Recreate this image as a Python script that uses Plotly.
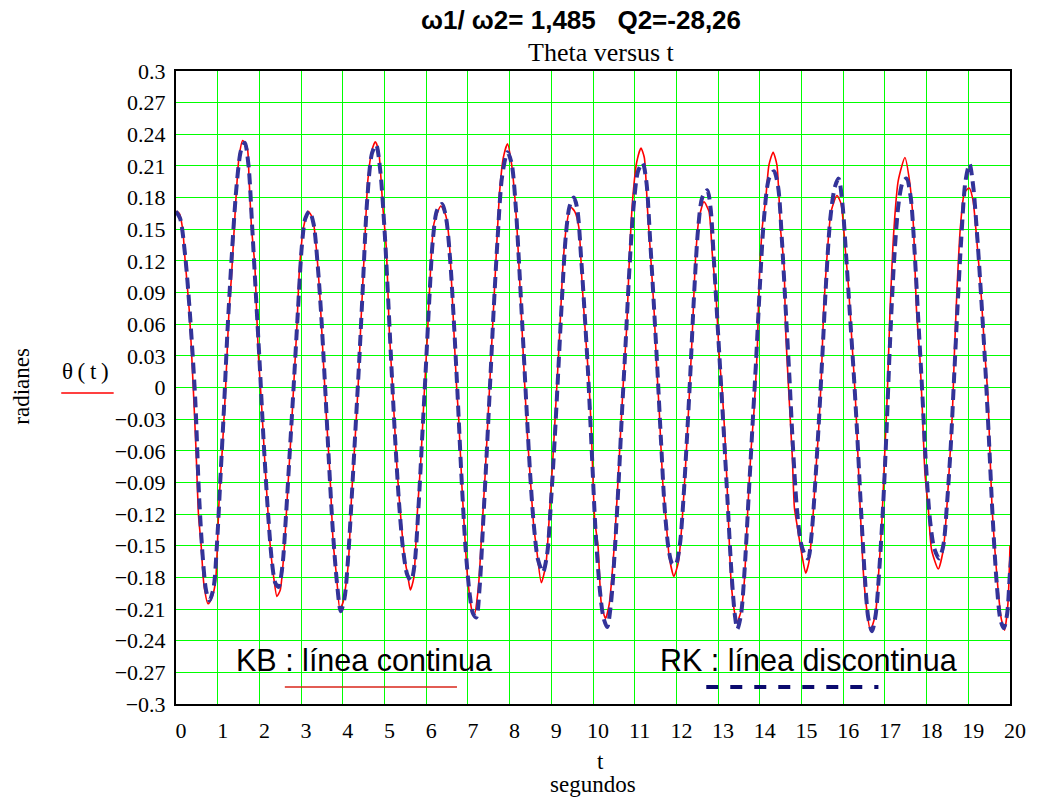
import plotly.graph_objects as go

# Time samples (s) and angle (rad) for the KB solution
t_kb = [0.00, 0.08, 0.16, 0.22, 0.32, 0.38, 0.44, 0.48, 0.54, 0.60, 0.67, 0.77, 0.87, 0.95,
        1.03, 1.11, 1.19, 1.27, 1.33, 1.43, 1.51, 1.60, 1.71, 1.75, 1.81, 1.89, 1.94, 1.98,
        2.05, 2.13, 2.21, 2.26, 2.34, 2.42, 2.50, 2.60, 2.68, 2.76, 2.82, 2.90, 2.96, 3.06,
        3.17, 3.28, 3.36, 3.45, 3.53, 3.61, 3.69, 3.77, 3.85, 3.93, 4.01, 4.13, 4.21, 4.29,
        4.37, 4.43, 4.52, 4.60, 4.70, 4.78, 4.86, 4.96, 5.04, 5.12, 5.20, 5.30, 5.40, 5.48,
        5.56, 5.62, 5.70, 5.79, 5.87, 5.95, 6.03, 6.11, 6.19, 6.35, 6.47, 6.55, 6.62, 6.68,
        6.73, 6.78, 6.86, 6.94, 6.99, 7.10, 7.15, 7.25, 7.33, 7.41, 7.49, 7.56, 7.63, 7.69,
        7.76, 7.85, 7.95, 8.05, 8.13, 8.18, 8.26, 8.34, 8.42, 8.50, 8.58, 8.65, 8.76, 8.87,
        8.96, 9.04, 9.12, 9.20, 9.28, 9.36, 9.46, 9.56, 9.66, 9.74, 9.82, 9.90, 9.96, 10.04,
        10.12, 10.20, 10.30, 10.39, 10.51, 10.59, 10.67, 10.75, 10.81, 10.87, 10.95, 11.05,
        11.15, 11.23, 11.31, 11.39, 11.47, 11.52, 11.59, 11.67, 11.75, 11.83, 11.94, 12.05,
        12.14, 12.22, 12.30, 12.38, 12.46, 12.54, 12.66, 12.78, 12.86, 12.95, 13.03, 13.10,
        13.18, 13.25, 13.31, 13.39, 13.45, 13.55, 13.63, 13.71, 13.79, 13.86, 13.94, 13.98,
        14.06, 14.14, 14.22, 14.32, 14.41, 14.50, 14.58, 14.62, 14.70, 14.78, 14.83, 14.90,
        15.02, 15.10, 15.18, 15.26, 15.34, 15.41, 15.48, 15.53, 15.61, 15.71, 15.85, 15.95,
        16.05, 16.13, 16.21, 16.29, 16.34, 16.41, 16.49, 16.57, 16.65, 16.77, 16.85, 16.93,
        17.00, 17.06, 17.12, 17.22, 17.32, 17.48, 17.59, 17.68, 17.76, 17.84, 17.90, 17.96,
        18.04, 18.12, 18.28, 18.40, 18.48, 18.56, 18.62, 18.67, 18.73, 18.81, 18.91, 19.02,
        19.11, 19.23, 19.31, 19.39, 19.47, 19.51, 19.57, 19.63, 19.71, 19.79, 19.87, 19.95,
        20.00]
theta_kb = [0.167, 0.165, 0.150, 0.120, 0.072, 0.028, -0.023, -0.059, -0.121, -0.148, -0.187,
            -0.205, -0.198, -0.183, -0.110, -0.059, 0.000, 0.072, 0.105, 0.174, 0.218, 0.234,
            0.227, 0.200, 0.152, 0.116, 0.065, 0.028, -0.015, -0.070, -0.121, -0.150, -0.179,
            -0.198, -0.192, -0.150, -0.096, -0.044, 0.000, 0.058, 0.112, 0.152, 0.167, 0.160,
            0.134, 0.087, 0.028, -0.030, -0.081, -0.147, -0.179, -0.210, -0.203, -0.168, -0.103,
            -0.052, 0.003, 0.058, 0.131, 0.196, 0.225, 0.233, 0.224, 0.171, 0.134, 0.050,
            -0.004, -0.077, -0.128, -0.161, -0.179, -0.192, -0.181, -0.117, -0.070, -0.008,
            0.050, 0.116, 0.156, 0.172, 0.163, 0.140, 0.090, 0.040, 0.000, -0.030, -0.096,
            -0.150, -0.179, -0.212, -0.216, -0.190, -0.139, -0.085, -0.023, 0.032, 0.087, 0.134,
            0.185, 0.218, 0.231, 0.211, 0.178, 0.149, 0.087, 0.021, -0.041, -0.088, -0.132,
            -0.154, -0.185, -0.168, -0.117, -0.066, -0.008, 0.050, 0.116, 0.152, 0.171, 0.167,
            0.152, 0.098, 0.050, 0.007, -0.041, -0.125, -0.150, -0.205, -0.219, -0.205, -0.150,
            -0.096, -0.037, 0.021, 0.058, 0.120, 0.178, 0.214, 0.227, 0.218, 0.167, 0.120, 0.069,
            0.025, -0.023, -0.088, -0.125, -0.161, -0.179, -0.165, -0.125, -0.074, -0.015,
            0.050, 0.123, 0.160, 0.176, 0.167, 0.127, 0.087, 0.028, -0.004, -0.059, -0.128,
            -0.183, -0.212, -0.223, -0.212, -0.183, -0.117, -0.059, -0.023, 0.036, 0.093, 0.152,
            0.178, 0.211, 0.223, 0.211, 0.149, 0.116, 0.054, -0.008, -0.066, -0.114, -0.132,
            -0.161, -0.176, -0.165, -0.132, -0.081, -0.041, 0.014, 0.072, 0.123, 0.167, 0.182,
            0.174, 0.131, 0.094, 0.043, -0.008, -0.052, -0.117, -0.179, -0.212, -0.230, -0.216,
            -0.176, -0.125, -0.059, -0.004, 0.069, 0.152, 0.196, 0.218, 0.196, 0.156, 0.072,
            0.028, -0.023, -0.081, -0.114, -0.154, -0.172, -0.154, -0.117, -0.066, -0.023,
            0.036, 0.094, 0.152, 0.185, 0.189, 0.178, 0.127, 0.087, 0.036, -0.008, -0.052,
            -0.114, -0.150, -0.190, -0.219, -0.230, -0.205, -0.150]

# Time samples (s) and angle (rad) for the RK solution
t_rk = [0.00, 0.10, 0.22, 0.33, 0.46, 0.55, 0.64, 0.72, 0.80, 0.90, 0.98, 1.06, 1.15, 1.23,
        1.33, 1.45, 1.56, 1.65, 1.74, 1.83, 1.92, 2.01, 2.10, 2.20, 2.30, 2.38, 2.46, 2.55,
        2.64, 2.73, 2.82, 2.92, 3.02, 3.10, 3.20, 3.30, 3.40, 3.48, 3.57, 3.66, 3.76, 3.86,
        3.95, 4.04, 4.13, 4.22, 4.31, 4.40, 4.48, 4.58, 4.70, 4.80, 4.90, 5.00, 5.08, 5.16,
        5.25, 5.35, 5.45, 5.55, 5.64, 5.72, 5.82, 5.90, 5.98, 6.07, 6.16, 6.26, 6.38, 6.48,
        6.58, 6.66, 6.75, 6.84, 6.94, 7.04, 7.12, 7.20, 7.28, 7.37, 7.46, 7.54, 7.62, 7.71,
        7.82, 7.95, 8.05, 8.15, 8.23, 8.31, 8.40, 8.49, 8.58, 8.68, 8.80, 8.90, 8.99, 9.08,
        9.16, 9.25, 9.35, 9.44, 9.54, 9.62, 9.72, 9.80, 9.88, 9.97, 10.06, 10.16, 10.25,
        10.34, 10.43, 10.53, 10.62, 10.70, 10.78, 10.87, 10.97, 11.08, 11.19, 11.28, 11.37,
        11.45, 11.54, 11.63, 11.72, 11.82, 11.90, 11.98, 12.08, 12.17, 12.25, 12.33, 12.42,
        12.52, 12.62, 12.74, 12.82, 12.90, 12.98, 13.06, 13.14, 13.23, 13.32, 13.40, 13.46,
        13.55, 13.64, 13.73, 13.82, 13.91, 14.00, 14.10, 14.22, 14.34, 14.44, 14.53, 14.62,
        14.71, 14.80, 14.89, 14.99, 15.10, 15.16, 15.24, 15.33, 15.42, 15.50, 15.59, 15.69,
        15.80, 15.89, 15.98, 16.07, 16.16, 16.25, 16.33, 16.42, 16.52, 16.60, 16.69, 16.78,
        16.87, 16.96, 17.04, 17.12, 17.22, 17.33, 17.43, 17.52, 17.62, 17.71, 17.80, 17.89,
        17.98, 18.08, 18.18, 18.30, 18.40, 18.49, 18.58, 18.66, 18.74, 18.83, 18.93, 19.03,
        19.12, 19.22, 19.31, 19.40, 19.49, 19.58, 19.68, 19.77, 19.85, 19.93, 20.00, 20.12]
theta_rk = [0.167, 0.160, 0.125, 0.072, -0.010, -0.100, -0.160, -0.192, -0.202, -0.190,
            -0.150, -0.090, -0.020, 0.050, 0.120, 0.190, 0.225, 0.232, 0.210, 0.150, 0.085,
            0.020, -0.050, -0.115, -0.165, -0.185, -0.189, -0.170, -0.120, -0.060, 0.000,
            0.070, 0.135, 0.160, 0.167, 0.155, 0.115, 0.070, 0.005, -0.065, -0.135, -0.185,
            -0.212, -0.200, -0.160, -0.100, -0.035, 0.030, 0.095, 0.175, 0.222, 0.230, 0.205,
            0.150, 0.090, 0.025, -0.045, -0.110, -0.155, -0.178, -0.183, -0.168, -0.110,
            -0.050, 0.010, 0.080, 0.140, 0.168, 0.174, 0.160, 0.118, 0.065, -0.005, -0.080,
            -0.150, -0.195, -0.214, -0.218, -0.190, -0.125, -0.055, 0.010, 0.075, 0.140,
            0.200, 0.223, 0.212, 0.170, 0.115, 0.055, -0.015, -0.080, -0.130, -0.163, -0.175,
            -0.158, -0.110, -0.050, 0.010, 0.080, 0.145, 0.172, 0.180, 0.170, 0.120, 0.070,
            0.015, -0.060, -0.135, -0.190, -0.218, -0.227, -0.205, -0.150, -0.085, -0.020,
            0.040, 0.110, 0.170, 0.205, 0.213, 0.195, 0.140, 0.085, 0.020, -0.050, -0.115,
            -0.155, -0.167, -0.168, -0.150, -0.105, -0.050, 0.010, 0.085, 0.150, 0.180, 0.187,
            0.170, 0.120, 0.065, 0.010, -0.045, -0.110, -0.175, -0.215, -0.229, -0.215,
            -0.170, -0.105, -0.040, 0.025, 0.095, 0.160, 0.198, 0.205, 0.190, 0.140, 0.075,
            0.010, -0.060, -0.115, -0.148, -0.160, -0.162, -0.140, -0.090, -0.030, 0.030,
            0.100, 0.160, 0.190, 0.198, 0.175, 0.125, 0.070, 0.015, -0.040, -0.110, -0.180,
            -0.218, -0.231, -0.215, -0.170, -0.110, -0.040, 0.040, 0.120, 0.175, 0.195, 0.198,
            0.180, 0.130, 0.065, 0.000, -0.070, -0.125, -0.152, -0.162, -0.150, -0.110, -0.055,
            0.010, 0.075, 0.140, 0.195, 0.212, 0.190, 0.140, 0.085, 0.025, -0.045, -0.120,
            -0.185, -0.220, -0.228, -0.215, -0.175, -0.120]

x_ticks = list(range(0, 21))
y_ticks = [-0.30, -0.27, -0.24, -0.21, -0.18, -0.15, -0.12, -0.09, -0.06, -0.03, 0.0,
           0.03, 0.06, 0.09, 0.12, 0.15, 0.18, 0.21, 0.24, 0.27, 0.30]
y_tick_text = ["\u22120.3", "\u22120.27", "\u22120.24", "\u22120.21", "\u22120.18", "\u22120.15",
               "\u22120.12", "\u22120.09", "\u22120.06", "\u22120.03", "0", "0.03", "0.06",
               "0.09", "0.12", "0.15", "0.18", "0.21", "0.24", "0.27", "0.3"]

W, H = 1038, 800
L, R, T, B = 176, 1019, 71, 704
SERIF = "Liberation Serif"
SANS = "Liberation Sans"


def px(x):
    return (x - L) / (R - L)


def py(y):
    return (B - y) / (B - T)


fig = go.Figure()
fig.add_trace(go.Scatter(x=t_kb, y=theta_kb, mode="lines",
                         line=dict(color="#ff0000", width=1.6, shape="spline", smoothing=0.6),
                         showlegend=False, hoverinfo="skip"))
fig.add_trace(go.Scatter(x=t_rk, y=theta_rk, mode="lines",
                         line=dict(color="#333399", width=4, dash="11px,6px",
                                   shape="spline", smoothing=0.8),
                         showlegend=False, hoverinfo="skip"))

grid = "#00ff00"
fig.update_xaxes(range=[0, 20], tickvals=x_ticks, ticktext=[str(v) for v in x_ticks],
                 showgrid=True, gridcolor=grid, gridwidth=1.3, zeroline=False,
                 showline=True, linecolor="black", linewidth=2, mirror=True,
                 ticks="", ticklabelstandoff=6, ticklabelshift=5,
                 tickfont=dict(family=SERIF, size=22, color="black"))
fig.update_yaxes(range=[-0.3, 0.3], tickvals=y_ticks, ticktext=y_tick_text,
                 showgrid=True, gridcolor=grid, gridwidth=1.3, zeroline=False,
                 showline=True, linecolor="black", linewidth=2, mirror=True,
                 ticks="", ticklabelstandoff=4,
                 tickfont=dict(family=SERIF, size=22, color="black"))

annotations = [
    dict(text="<b>\u03c91/ \u03c92= 1,485\u00a0\u00a0\u00a0Q2=-28,26</b>", x=px(585), y=py(20),
         font=dict(family=SANS, size=26, color="black")),
    dict(text="Theta versus t", x=px(606), y=py(52),
         font=dict(family=SERIF, size=26, color="black")),
    dict(text="radianes", x=px(19), y=py(386), textangle=-90,
         font=dict(family=SERIF, size=23, color="black")),
    dict(text="\u03b8\u2009(\u2009t\u2009)", x=px(85), y=py(371),
         font=dict(family=SERIF, size=23, color="black")),
    dict(text="t", x=px(605), y=py(761),
         font=dict(family=SERIF, size=23, color="black")),
    dict(text="segundos", x=px(598), y=py(784),
         font=dict(family=SERIF, size=23, color="black")),
    dict(text="KB : l\u00ednea continua", x=px(366), y=py(660),
         font=dict(family=SANS, size=30.5, color="black")),
    dict(text="RK : l\u00ednea discontinua", x=px(815), y=py(660),
         font=dict(family=SANS, size=30.5, color="black")),
]
for a in annotations:
    a.update(xref="paper", yref="paper", showarrow=False, xanchor="center", yanchor="middle")

shapes = [
    dict(type="line", xref="paper", yref="paper", x0=px(60), x1=px(113), y0=py(393), y1=py(393),
         line=dict(color="#ff0000", width=1.5)),
    dict(type="line", xref="paper", yref="paper", x0=px(286), x1=px(460), y0=py(687), y1=py(687),
         line=dict(color="#d8261a", width=1.3)),
    dict(type="line", xref="paper", yref="paper", x0=px(712), x1=px(886), y0=py(687), y1=py(687),
         line=dict(color="#0a0a6e", width=4, dash="12px,12px")),
]

fig.update_layout(width=W, height=H, autosize=False,
                  margin=dict(l=L, r=W - R, t=T, b=H - B, pad=0),
                  paper_bgcolor="white", plot_bgcolor="white",
                  annotations=annotations, shapes=shapes, showlegend=False)

fig.write_html("out.html")
